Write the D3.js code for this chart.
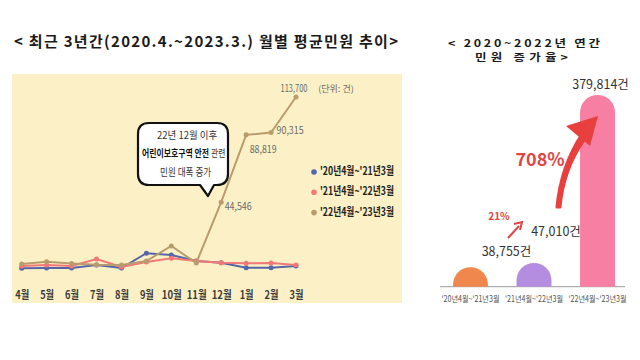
<!DOCTYPE html>
<html><head><meta charset="utf-8">
<script src="https://cdn.jsdelivr.net/npm/d3@7"></script>
<style>
html,body{margin:0;padding:0;background:#fff;}
svg{display:block;font-family:"Noto Sans CJK KR","Noto Sans",sans-serif;}
</style></head><body>
<svg id="c" width="640" height="360"></svg>
<script>
// ---- data ----
const months = ["4월","5월","6월","7월","8월","9월","10월","11월","12월","1월","2월","3월"];
const seriesNames = ["'20년4월~'21년3월","'21년4월~'22년3월","'22년4월~'23년3월"];
const s2020 = [1100,1300,1300,3300,1300,11000,9900,5900,4800,1500,1500,2600];
const s2021 = [2600,3300,2600,7200,2000,5300,7700,5900,4800,4400,4600,3300];
const s2022 = [3900,5500,4300,3500,3300,5900,15800,4600,44546,88819,90315,113700];
const labeledIdx = [8,9,10,11];
const yearCats = ["'20년4월~'21년3월","'21년4월~'22년3월","'22년4월~'23년3월"];
const yearTotals = [38755,47010,379814];
const yearLabels = ["38,755건","47,010건","379,814건"];
const growth = ["21%","708%"];

const svg = d3.select("#c");
const lineColors = ["#5565a8","#f27878","#b99c6e"];

// ---- left panel ----
svg.append("rect").attr("x",12).attr("y",74).attr("width",390).attr("height",229).attr("fill","#fcf1c6");

svg.append("text").attr("x",14).attr("y",47).attr("font-size",15).attr("font-weight","bold")
  .attr("fill","#1a1a1a").attr("textLength",384).attr("lengthAdjust","spacing")
  .text("< 최근 3년간(2020.4.~2023.3.) 월별 평균민원 추이>");

const x = d3.scalePoint().domain(months).range([21.7,296]);
const y = d3.scaleLinear().domain([0,113700]).range([270,97]);

// month axis
const xAxis = d3.axisBottom(x).tickSize(0).tickPadding(0);
const gx = svg.append("g").attr("transform","translate(0,295)").call(xAxis);
gx.select(".domain").remove();
gx.selectAll("text").attr("font-size",11).attr("font-weight","bold").attr("fill","#3a3a3a")
  .attr("font-family","'Noto Sans CJK KR',sans-serif").attr("dy","0.35em").attr("y",0)
  .attr("textLength",d=>d.length>2?20:14).attr("lengthAdjust","spacingAndGlyphs");

const data = [s2020,s2021,s2022];
const line = d3.line().x((d,i)=>x(months[i])).y(d=>y(d));
data.forEach((s,k)=>{
  svg.append("path").datum(s).attr("d",line).attr("fill","none")
    .attr("stroke",lineColors[k]).attr("stroke-width",2);
  svg.append("g").selectAll("circle").data(s).join("circle")
    .attr("cx",(d,i)=>x(months[i])).attr("cy",d=>y(d)).attr("r",2.5).attr("fill",lineColors[k]);
});

// value labels
const lblOff = {8:[17,5],9:[17,15],10:[19,-1],11:[-2,-8]};
labeledIdx.forEach(i=>{
  const v = s2022[i];
  svg.append("text").attr("x",x(months[i])+lblOff[i][0]).attr("y",y(v)+lblOff[i][1])
    .attr("text-anchor","middle").attr("dominant-baseline","middle")
    .attr("font-size",10).attr("fill","#6a6a6a").attr("textLength",27).attr("lengthAdjust","spacingAndGlyphs")
    .text(d3.format(",")(v));
});
svg.append("text").attr("x",336).attr("y",90).attr("text-anchor","middle").attr("dominant-baseline","middle")
  .attr("font-size",9).attr("fill","#6a6a6a").text("(단위: 건)");

// legend
seriesNames.forEach((n,k)=>{
  const ly = 172 + k*20.3;
  svg.append("circle").attr("cx",314).attr("cy",ly).attr("r",2.8).attr("fill",lineColors[k]);
  svg.append("text").attr("x",320).attr("y",ly).attr("dominant-baseline","middle")
    .attr("font-size",11).attr("font-weight","bold").attr("fill","#222")
    .attr("textLength",74).attr("lengthAdjust","spacingAndGlyphs").text(n);
});

// speech bubble
const bx0=138,by0=123,bx1=228,by1=185,r=11;
const bubble = `M${bx0+r},${by0} L${bx1-r},${by0} Q${bx1},${by0} ${bx1},${by0+r} L${bx1},${by1-r} Q${bx1},${by1} ${bx1-r},${by1}
 L${bx1-14},${by1} L${bx1-20},${by1+11} L${bx1-28},${by1} L${bx0+r},${by1} Q${bx0},${by1} ${bx0},${by1-r} L${bx0},${by0+r} Q${bx0},${by0} ${bx0+r},${by0} Z`;
svg.append("path").attr("d",bubble).attr("fill","#fff").attr("stroke","#111").attr("stroke-width",2.2).attr("stroke-linejoin","round");
const bt = svg.append("g").attr("font-size",10).attr("fill","#333");
bt.append("text").attr("transform","translate(157,139) scale(0.95,1)").text("22년 12월 이후");
bt.append("text").attr("transform","translate(142,157) scale(0.79,1)").attr("font-weight","bold").attr("fill","#111")
  .text("어린이보호구역 안전");
bt.append("text").attr("transform","translate(211,157) scale(0.78,1)").text("관련");
bt.append("text").attr("transform","translate(160,175.5) scale(0.86,1)").text("민원 대폭 증가");

// ---- right panel ----
const rt = svg.append("g").attr("font-size",12.5).attr("font-weight","bold").attr("fill","#1a1a1a");
rt.append("text").attr("transform","translate(448,46.5) scale(1,0.85)").attr("textLength",152).attr("lengthAdjust","spacing").text("< 2020~2022년  연간");
rt.append("text").attr("transform","translate(475,60.5) scale(1,0.85)").attr("textLength",93).attr("lengthAdjust","spacing").text("민원  증가율>");

const xb = d3.scaleBand().domain(yearCats).range([453,615]).paddingInner(0.45).paddingOuter(0);
const yb = d3.scaleLinear().domain([0,379814]).range([286.7,95]);
const barColors = ["#f0884e","#b48ce0","#f77fa3"];
svg.append("line").attr("x1",440).attr("x2",625).attr("y1",286.7).attr("y2",286.7).attr("stroke","#9a9a9a").attr("stroke-width",1);
yearTotals.forEach((v,i)=>{
  const bx = xb(yearCats[i]), w = xb.bandwidth(), top = yb(v), base = yb(0);
  const h = base-top, rx = w/2, ry = Math.min(w/2,h);
  const p = `M${bx},${base} L${bx},${top+ry} A${rx},${ry} 0 0 1 ${bx+w},${top+ry} L${bx+w},${base} Z`;
  svg.append("path").attr("d",p).attr("fill",barColors[i]);
  svg.append("text").attr("x",bx+w/2).attr("y",300).attr("text-anchor","middle").attr("dominant-baseline","middle")
    .attr("font-size",8.5).attr("fill","#555").attr("textLength",58).attr("lengthAdjust","spacingAndGlyphs").text(yearCats[i]);
});
// value labels
const vOff = [[36,-15],[22,-30],[3,-9]];
yearTotals.forEach((v,i)=>{
  svg.append("text").attr("x",xb(yearCats[i])+xb.bandwidth()/2+vOff[i][0]).attr("y",yb(v)+vOff[i][1])
    .attr("text-anchor","middle").attr("dominant-baseline","middle").attr("font-size",12.5).attr("fill","#333")
    .text(yearLabels[i]);
});
// growth arrows
svg.append("text").attr("x",499).attr("y",217).attr("text-anchor","middle").attr("dominant-baseline","middle")
  .attr("font-size",10).attr("font-weight","bold").attr("fill","#e04545").text(growth[0]);
svg.append("line").attr("x1",508).attr("y1",238).attr("x2",519).attr("y2",226).attr("stroke","#e04545").attr("stroke-width",2);
svg.append("path").attr("d","M514,224 L522,222 L520,230").attr("fill","none").attr("stroke","#e04545").attr("stroke-width",2);
svg.append("text").attr("x",540).attr("y",161).attr("text-anchor","middle").attr("dominant-baseline","middle")
  .attr("font-size",18).attr("font-weight","bold").attr("fill","#e04545").text(growth[1]);
svg.append("path").attr("d","M557,207 C559,185 565,160 582,134 L584,140 C568,163 562,186 560,207 Z")
  .attr("fill","#e8403f").attr("stroke","#e8403f").attr("stroke-width",3).attr("stroke-linejoin","round");
svg.append("path").attr("d","M566,126 L598,116 L590,146 Z").attr("fill","#e8403f");
</script>
</body></html>
